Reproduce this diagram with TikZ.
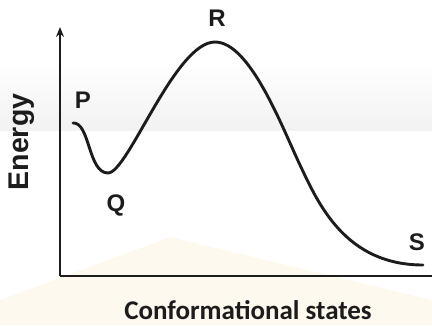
\documentclass[tikz,border=0pt]{standalone}
\usepackage{fontspec}
\setmainfont{Liberation Sans}
\newfontfamily\calfont{Carlito}
\usepackage{xcolor}
\usepackage{tikz}
\usetikzlibrary{arrows.meta}
\definecolor{bandgray}{HTML}{F2F2F2}
\definecolor{ghost}{HTML}{FDF9EF}
\definecolor{inkdark}{HTML}{1C1C1C}

\begin{document}
\begin{tikzpicture}[x=1pt, y=1pt,
    statelbl/.style={font=\bfseries\fontsize{24}{24}\selectfont, text=inkdark},
    axislbl/.style={font=\bfseries\fontsize{28.5}{28.5}\selectfont, text=inkdark}]
  \useasboundingbox (0,0) rectangle (432,325);
  % faint backdrop
  \shade[top color=white, bottom color=bandgray] (0,195) rectangle (432,265);
  \fill[ghost] (0,25) -- (170,88) -- (432,25) -- (432,0) -- (0,0) -- cycle;
  % axes
  \coordinate (O) at (60,49);
  \coordinate (ytop) at (60,298);
  \coordinate (xend) at (432,49);
  \draw[line width=1.6pt, inkdark, -{Stealth[length=10pt,width=8pt]}] (O) -- (ytop);
  \draw[line width=1.6pt, inkdark] (O) -- (xend);
  % energy profile
  \coordinate (P) at (73,202);
  \coordinate (Q) at (108,152);
  \coordinate (R) at (215,283);
  \coordinate (M) at (300,160);
  \coordinate (S) at (423,60);
  \draw[line width=2.9pt, inkdark, line cap=round]
    (P) .. controls (90,203) and (88,152) .. (Q)
        .. controls (128,152) and (175,283) .. (R)
        .. controls (250,283) and (282,198) .. (M)
        .. controls (318,122) and (345,60) .. (S);
  \node[statelbl] (Plbl) at (83,225) {P};
  \node[statelbl] (Qlbl) at (116,120) {Q};
  \node[statelbl] (Rlbl) at (217,307) {R};
  \node[statelbl] (Slbl) at (417,83) {S};
  \node[axislbl, rotate=90] (ylbl) at (22,183) {Energy};
  \node[font=\calfont\bfseries\fontsize{27}{27}\selectfont, text=inkdark] (xlbl) at (248,15) {Conformational states};
\end{tikzpicture}
\end{document}
